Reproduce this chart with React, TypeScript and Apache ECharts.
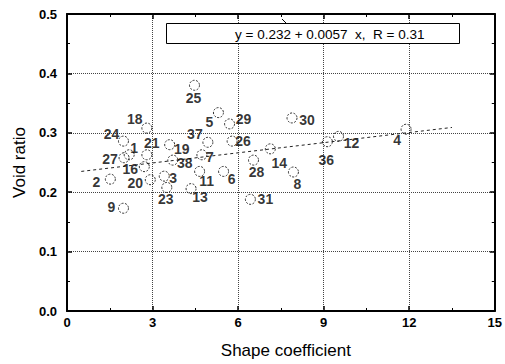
import React, { useEffect, useRef } from "react";
import * as echarts from "echarts";

const ids = [1, 2, 3, 4, 5, 6, 7, 8, 9, 11, 12, 13, 14, 16, 18, 19, 20, 21, 23, 24, 25, 26, 27, 28, 29, 30, 31, 36, 37, 38];
const shapeCoef = [2.18, 1.52, 3.41, 11.89, 5.31, 5.49, 4.73, 7.94, 1.98, 4.65, 9.52, 4.35, 7.13, 2.71, 2.8, 3.6, 2.92, 2.8, 3.5, 1.98, 4.47, 5.79, 2.0, 6.54, 5.7, 7.89, 6.43, 9.13, 4.94, 3.71];
const voidRatio = [0.263, 0.222, 0.227, 0.306, 0.334, 0.235, 0.263, 0.234, 0.173, 0.235, 0.294, 0.206, 0.273, 0.243, 0.308, 0.28, 0.221, 0.263, 0.208, 0.286, 0.38, 0.286, 0.258, 0.254, 0.315, 0.325, 0.188, 0.285, 0.284, 0.254];

const fitX = [0.5, 13.5];
const fitY = [0.235, 0.309];

const xTicks = [0, 3, 6, 9, 12, 15];
const equationText = "y = 0.232 + 0.0057  x,  R = 0.31";

// label offsets (layout only), pixels from circle centre
const labelOffsets: Record<number, [number, number]> = {
  1: [5, -7], 2: [-14, 3], 3: [9, 2], 4: [-9, 11], 5: [-9, 9], 6: [8, 8], 7: [8, 2],
  8: [4, 12], 9: [-12, -1], 11: [7, 10], 12: [13, 7], 13: [9, 8], 14: [9, 14],
  16: [-14, 2], 18: [-12, -9], 19: [12, 4], 20: [-15, 3], 21: [5, -12], 23: [-1, 12],
  24: [-12, -7], 25: [-1, 13], 26: [11, 0], 27: [-14, 1], 28: [3, 12], 29: [14, -5],
  30: [15, 2], 31: [15, 0], 36: [-1, 18], 37: [-13, -8], 38: [12, 3],
};

const FONT = "Liberation Sans, Arial, Helvetica, sans-serif";

export default function App() {
  const ref = useRef<HTMLDivElement>(null);
  useEffect(() => {
    if (!ref.current) return;
    const chart = echarts.init(ref.current, undefined, { renderer: "svg" });
    const points = ids.map((id, i) => ({
      value: [shapeCoef[i], voidRatio[i]],
      label: {
        show: true,
        formatter: String(id),
        position: "inside",
        offset: labelOffsets[id] || [10, 0],
        align: "center",
        verticalAlign: "middle",
        color: "#000",
        fontFamily: FONT,
        fontWeight: "bold",
        fontSize: 14,
        lineHeight: 11,
      },
    }));
    const axisCommon = {
      min: 0,
      axisLine: { show: true, onZero: false, lineStyle: { color: "#000", width: 2 } },
      axisTick: { show: true, inside: true, length: 5, lineStyle: { color: "#000", width: 1.5 } },
      minorTick: { show: true, splitNumber: 2, length: 3, lineStyle: { color: "#000", width: 1 } },
    };
    chart.setOption({
      animation: false,
      backgroundColor: "#fff",
      grid: { left: 67, right: 10, top: 14, bottom: 52, containLabel: false },
      xAxis: [
        {
          ...axisCommon,
          type: "value",
          max: 15,
          interval: 3,
          position: "bottom",
          name: "Shape coefficient",
          nameLocation: "middle",
          nameGap: 31,
          nameTextStyle: { fontFamily: FONT, fontSize: 17, color: "#000", padding: [0, 0, 0, 10] },
          axisLabel: {
            color: "#000",
            fontFamily: FONT,
            fontWeight: "bold",
            fontSize: 13,
            margin: 5,
            formatter: (v: number) => (xTicks.includes(v) ? String(v) : ""),
          },
          splitLine: { show: true, lineStyle: { color: "#444", type: "dotted", width: 1 } },
        },
        {
          ...axisCommon,
          type: "value",
          max: 15,
          interval: 3,
          position: "top",
          axisLabel: { show: false },
          splitLine: { show: false },
        },
      ],
      yAxis: [
        {
          ...axisCommon,
          type: "value",
          max: 0.5,
          interval: 0.1,
          position: "left",
          name: "Void ratio",
          nameLocation: "middle",
          nameGap: 31,
          nameRotate: 90,
          nameTextStyle: { fontFamily: FONT, fontSize: 17, color: "#000" },
          axisLabel: {
            color: "#000",
            fontFamily: FONT,
            fontWeight: "bold",
            fontSize: 13,
            margin: 10,
            formatter: (v: number) => v.toFixed(1),
          },
          splitLine: { show: true, lineStyle: { color: "#444", type: "dotted", width: 1 } },
        },
        {
          ...axisCommon,
          type: "value",
          max: 0.5,
          interval: 0.1,
          position: "right",
          axisLabel: { show: false },
          splitLine: { show: false },
        },
      ],
      series: [
        {
          type: "line",
          data: fitX.map((x, i) => [x, fitY[i]]),
          showSymbol: false,
          symbol: "none",
          lineStyle: { color: "#222", width: 1, type: [3, 3] },
          silent: true,
          z: 1,
        },
        {
          type: "scatter",
          data: points,
          symbol: "circle",
          symbolSize: 10,
          itemStyle: { color: "rgba(255,255,255,0)", borderColor: "#000", borderWidth: 1, borderType: [2, 1.5] },
          z: 3,
        },
      ],
      graphic: [
        {
          type: "rect",
          shape: { x: 166.5, y: 23.5, width: 293, height: 20 },
          style: { fill: "#fff", stroke: "#000", lineWidth: 1 },
          z: 10,
        },
        {
          type: "text",
          x: 235,
          y: 34,
          style: {
            text: equationText,
            fill: "#000",
            font: `13.5px ${FONT}`,
            verticalAlign: "middle",
            align: "left",
          },
          z: 11,
        },
        {
          type: "line",
          shape: { x1: 282, y1: 19, x2: 287, y2: 24 },
          style: { stroke: "#000", lineWidth: 1 },
          z: 11,
        },
      ],
    });
    return () => chart.dispose();
  }, []);
  return (
    <div
      ref={ref}
      style={{ position: "fixed", left: 0, top: 0, width: 505, height: 364, background: "#fff" }}
    />
  );
}
